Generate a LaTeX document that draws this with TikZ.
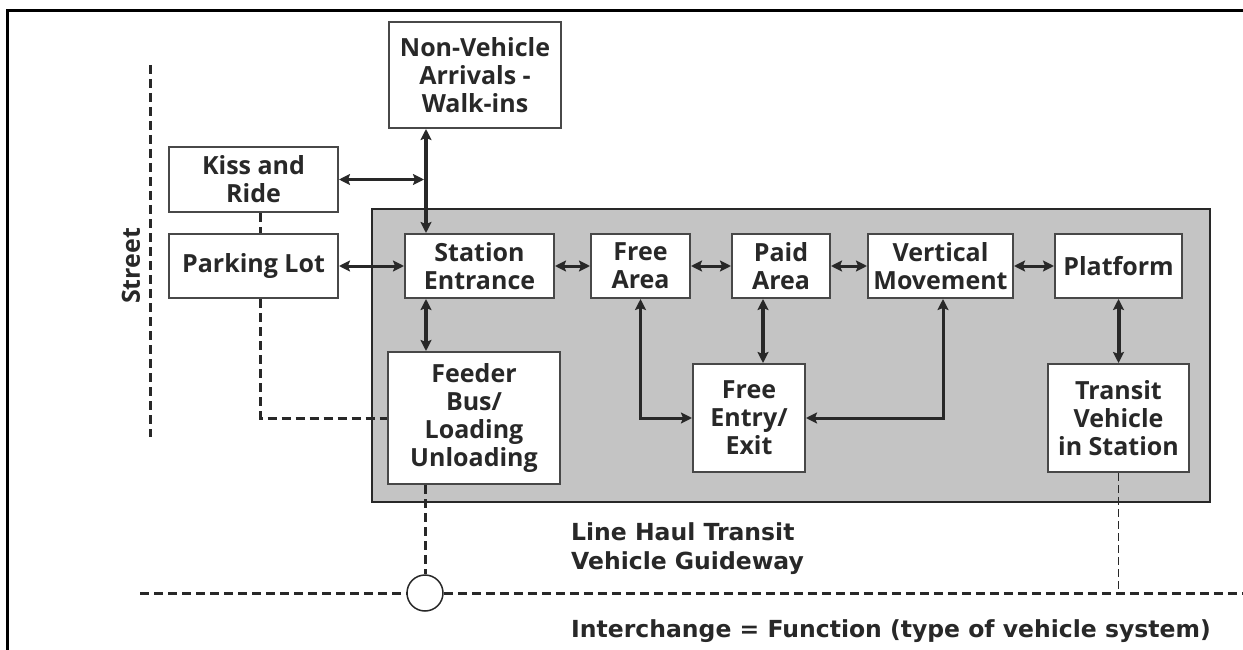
\documentclass[tikz,border=0pt]{standalone}
\usepackage{fontspec}
\setmainfont{Open Sans}
\newfontfamily\guidefont{DejaVu Sans}
\usetikzlibrary{arrows.meta}
\definecolor{stationgray}{RGB}{196,196,196}
\definecolor{ink}{RGB}{40,40,40}

\begin{document}
\begin{tikzpicture}[x=1pt,y=-1pt,
    box/.style={draw=ink!85, line width=2pt, fill=white, align=center, inner sep=0pt,
      text=ink, font=\fontsize{25}{28}\selectfont\bfseries},
    link/.style={draw=ink, line width=3pt,
      {Stealth[length=11pt,width=11pt,inset=2pt]}-{Stealth[length=11pt,width=11pt,inset=2pt]}},
    biglink/.style={link, line width=4pt},
    tie/.style={draw=ink, line width=3pt, dash pattern=on 9pt off 5pt},
    thintie/.style={draw=ink, line width=1.5pt, dash pattern=on 8pt off 4pt},
    note/.style={inner sep=0pt, align=left, text=ink, font=\guidefont\fontsize{23.5}{29}\selectfont\bfseries}]
  \useasboundingbox (0,0) rectangle (1243,650);
  \draw[line width=3pt] (7,650) -- (7,11) -- (1243,11); % frame of the figure

  \draw[fill=stationgray, draw=ink, line width=2pt] (372,209) rectangle (1210,502); % the station itself

  \draw[tie] (150,65) -- (150,437); % street line
      \node[rotate=90, inner sep=0pt, text=ink, font=\fontsize{25}{28}\selectfont\bfseries] (street) at (131,266) {Street};

  % boxes outside the station
  \node[box, minimum width=172pt, minimum height=106pt] (nv) at (475,75) {Non-Vehicle\\Arrivals -\\Walk-ins};
  \node[box, minimum width=169pt, minimum height=65pt] (kiss) at (253.5,179.5) {Kiss and\\Ride};
  \node[box, minimum width=169pt, minimum height=64pt] (park) at (253.5,266) {Parking Lot};

  % boxes inside the station
  \node[box, minimum width=149pt, minimum height=64pt] (entr) at (479.5,266) {Station\\Entrance};
  \node[box, minimum width=99pt, minimum height=64pt] (free) at (640.5,266) {Free\\Area};
  \node[box, minimum width=98pt, minimum height=64pt] (paid) at (781,266) {Paid\\Area};
  \node[box, minimum width=145pt, minimum height=64pt] (vert) at (940.5,266) {Vertical\\Movement};
  \node[box, minimum width=127pt, minimum height=64pt] (plat) at (1118.5,266) {Platform};
  \node[box, minimum width=172pt, minimum height=132pt] (feed) at (474,418) {Feeder\\Bus/\\Loading\\Unloading};
  \node[box, minimum width=112pt, minimum height=108pt] (fent) at (749,418) {Free\\Entry/\\Exit};
  \node[box, minimum width=141pt, minimum height=108pt] (trans) at (1118.5,418) {Transit\\Vehicle\\in Station};

  \coordinate (spine) at ([xshift=-49pt]nv.south); % walk-in line
  \coordinate (gw) at (140,593);
  \coordinate (ge) at (1243,593);
  \node[draw=ink, fill=white, line width=1.5pt, circle, minimum size=36pt, inner sep=0pt] (ic) at (425,593) {};

  % arrows
  \draw[biglink] (spine) -- (spine |- entr.north);
  \draw[link] (kiss.east) -- ([xshift=-2pt]spine |- kiss.east);
  \draw[link] (park.east) -- (entr.west);
  \draw[link] (entr.east) -- (free.west);
  \draw[link] (free.east) -- (paid.west);
  \draw[link] (paid.east) -- (vert.west);
  \draw[link] (vert.east) -- (plat.west);
  \draw[biglink] (spine |- entr.south) -- (spine |- feed.north);
  \draw[biglink] ([xshift=-18pt]paid.south) -- ([xshift=-18pt]paid.south |- fent.north);
  \draw[biglink] (plat.south) -- (trans.north);
  \draw[link] (free.south) |- (fent.west); % free area to free entry
  \draw[link] ([xshift=2.5pt]vert.south) |- (fent.east);

  % dashed ties
  \draw[tie] ([xshift=7pt]kiss.south) -- ([xshift=7pt]park.north);
  \draw[tie] ([xshift=7pt]park.south) |- (feed.west);
  \draw[tie] (ic.north |- feed.south) -- (ic.north);
  \draw[tie] (gw) -- (ic.west);
  \draw[tie] (ic.east) -- (ge);
  \draw[thintie] (trans.south) -- (trans.south |- ge);

  \node[note, anchor=north west] (haul) at (571,522) {Line Haul Transit\\Vehicle Guideway};
  \node[note, anchor=base west] (func) at (571,637) {Interchange = Function (type of vehicle system)};
\end{tikzpicture}
\end{document}
